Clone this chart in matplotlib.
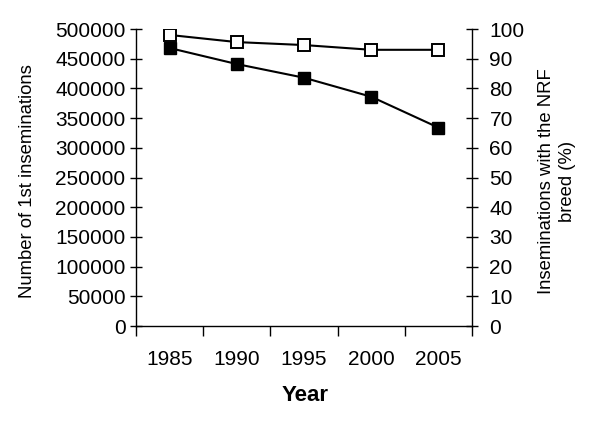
import matplotlib.pyplot as plt
import numpy as np

plt.rcParams['font.family'] = ['Liberation Sans', 'DejaVu Sans']

years = ['1985', '1990', '1995', '2000', '2005']
inseminations = [468000, 441000, 418000, 386000, 334000]
nrf_percent = [98, 95.6, 94.6, 93, 93]

fig = plt.figure(figsize=(6, 4.23), dpi=100)
ax = fig.add_axes([0.2267, 0.2293, 0.56, 0.7021])
ax2 = ax.twinx()

x = np.arange(len(years)) + 0.5
ax.plot(x, inseminations, color='black', lw=1.5, marker='s', ms=8.5,
        mfc='black', mec='black', zorder=3)
ax2.plot(x, nrf_percent, color='black', lw=1.5, marker='s', ms=8.5,
         mfc='white', mec='black', mew=1.4, zorder=3)

ax.set_xlim(0, len(years))
ax.set_ylim(0, 500000)
ax2.set_ylim(0, 100)
ax.set_yticks(np.arange(0, 500001, 50000))
ax2.set_yticks(np.arange(0, 101, 10))

# category axis: ticks at boundaries, labels centred
ax.set_xticks(np.arange(len(years) + 1))
ax.set_xticklabels([])
ax.set_xticks(x, minor=True)
ax.set_xticklabels(years, minor=True)
ax.tick_params(axis='x', which='major', direction='out', length=7, width=1)
ax.tick_params(axis='x', which='minor', length=0, pad=17, labelsize=15)

ax.tick_params(axis='y', direction='inout', length=9, width=1, labelsize=15, pad=3)
ax2.tick_params(axis='y', direction='inout', length=9, width=1, labelsize=15, pad=8)

for a in (ax, ax2):
    a.spines['top'].set_visible(False)
    for s in a.spines.values():
        s.set_linewidth(1)
ax.spines['right'].set_visible(False)
ax2.spines['left'].set_visible(False)
ax2.spines['bottom'].set_visible(False)

fig.text(28 / 600, 1 - 181 / 423, 'Number of 1st inseminations', fontsize=13.3,
         rotation=90, ha='center', va='center')
fig.text(557 / 600, 1 - 181 / 423, 'Inseminations with the NRF\nbreed (%)',
         fontsize=13.3, rotation=90, ha='center', va='center',
         multialignment='center', linespacing=1.3)
fig.text(305 / 600, 1 - 395 / 423, 'Year', fontsize=16, fontweight='bold',
         ha='center', va='center')

fig.savefig('out.png', dpi=100)
